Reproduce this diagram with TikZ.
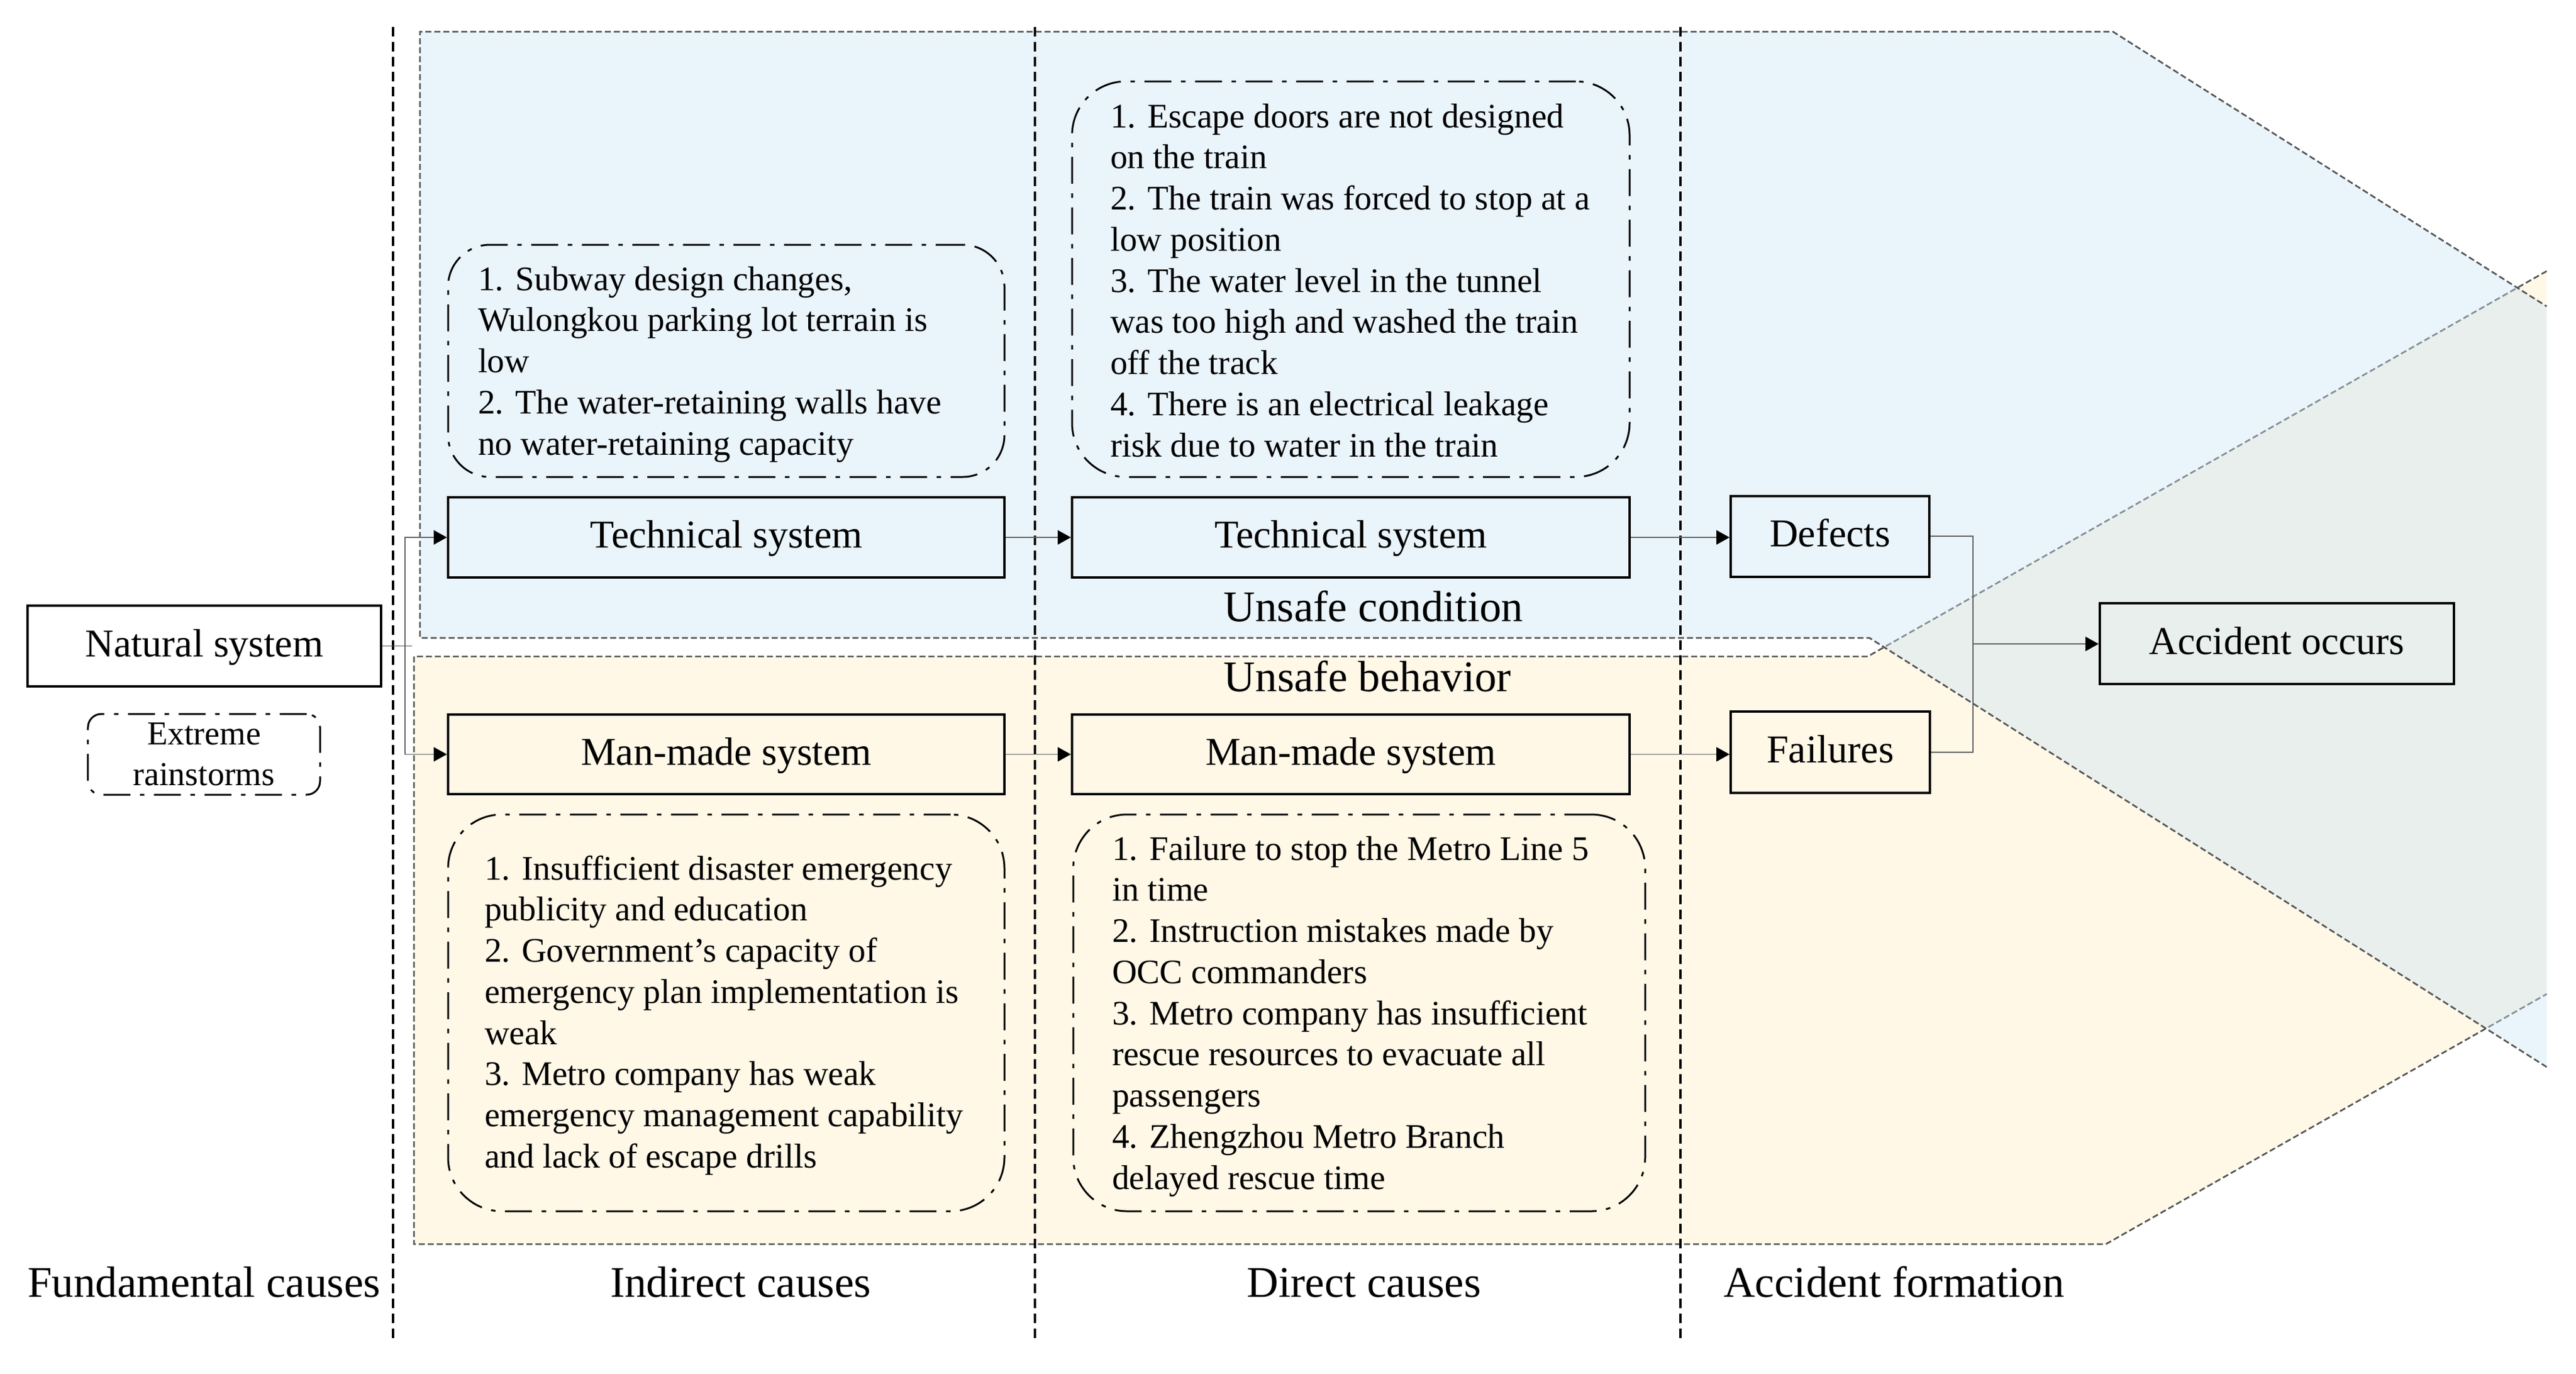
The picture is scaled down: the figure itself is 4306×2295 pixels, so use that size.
\documentclass[tikz,border=0pt]{standalone}
\usepackage{fontspec}
\setmainfont{Liberation Serif}
\usetikzlibrary{arrows.meta}
\definecolor{bluefill}{RGB}{202,227,245}
\definecolor{yelfill}{RGB}{255,248,231}
\definecolor{regline}{RGB}{85,85,85}
\definecolor{connline}{RGB}{95,95,95}
\begin{document}
\begin{tikzpicture}[x=0.2pt,y=-0.2pt]
\tikzset{
 sysbox/.style={draw, line width=0.8pt, inner sep=0pt, text height=0.92em, text depth=0.22em, font=\fontsize{13.2}{15}\selectfont},
 notebox/.style={draw, line width=0.6pt, dash pattern=on 9pt off 3.2pt on 1.5pt off 3.2pt, rounded corners=18pt, inner sep=0pt},
 notetext/.style={anchor=base west, inner sep=0pt, font=\fontsize{11.5}{13.75}\selectfont},
 divider/.style={line width=0.65pt, dash pattern=on 3.2pt off 1.8pt},
 regborder/.style={draw=regline, line width=0.55pt, dash pattern=on 2pt off 1pt},
 conn/.style={draw=connline, line width=0.35pt},
 arr/.style={-{Triangle[length=4.4pt,width=4.8pt,color=black]}},
 seclabel/.style={anchor=base, inner sep=0pt, font=\fontsize{14.6}{17}\selectfont},
}
\useasboundingbox (0,0) rectangle (4306,2295);
% unsafe behavior region (yellow)
\fill[yelfill] (692,1097) -- (3122,1097) -- (4257,453) -- (4257,1661) -- (3520,2079) -- (692,2079) -- cycle;
\draw[regborder] (4257,453) -- (3122,1097) -- (692,1097) -- (692,2079) -- (3520,2079) -- (4257,1661);
% unsafe condition region (blue)
\fill[bluefill, fill opacity=0.4] (702,53) -- (3532,53) -- (4257,512) -- (4257,1783) -- (3125,1066) -- (702,1066) -- cycle;
\draw[regborder] (4257,1783) -- (3125,1066) -- (702,1066) -- (702,53) -- (3532,53) -- (4257,512);
% dividers
\draw[divider] (657,45) -- (657,2243);
\draw[divider] (1730,45) -- (1730,2243);
\draw[divider] (2809,45) -- (2809,2243);
% system boxes
\node[sysbox, minimum width=118.2pt, minimum height=27pt] (natural) at (341.5,1079.5) {Natural system};
\node[sysbox, minimum width=186pt, minimum height=26.8pt] (tech1) at (1214,898) {Technical system};
\node[sysbox, minimum width=186.4pt, minimum height=26.8pt] (tech2) at (2258,898) {Technical system};
\node[sysbox, minimum width=66.4pt, minimum height=27pt] (defects) at (3059,896) {Defects};
\node[sysbox, minimum width=186pt, minimum height=26.6pt] (man1) at (1214,1260.5) {Man-made system};
\node[sysbox, minimum width=186.4pt, minimum height=26.6pt] (man2) at (2258,1260.5) {Man-made system};
\node[sysbox, minimum width=66.6pt, minimum height=27.2pt] (failures) at (3059.5,1257) {Failures};
\node[sysbox, minimum width=118.4pt, minimum height=27pt] (accident) at (3806,1075.5) {Accident occurs};
\node[notebox, rounded corners=4.5pt, minimum width=77.6pt, minimum height=27pt, align=center, font=\fontsize{11.2}{13.6}\selectfont] (rain) at (341,1260.5) {Extreme\\rainstorms};
% note boxes
\node[notebox, rounded corners=14pt, minimum width=186pt, minimum height=77.6pt] (boxA) at (1214,603) {};
\node[notebox, minimum width=186.4pt, minimum height=132.2pt] (boxB) at (2258,466.5) {};
\node[notebox, minimum width=186pt, minimum height=132.6pt] (boxC) at (1214,1692.5) {};
\node[notebox, minimum width=191.2pt, minimum height=132.6pt] (boxD) at (2272,1692.5) {};
\node[notetext] (tA) at (798,485) {\begin{tabular}[t]{@{}l@{}}1. Subway design changes,\\Wulongkou parking lot terrain is\\low\\2. The water-retaining walls have\\no water-retaining capacity\end{tabular}};
\node[notetext] (tB) at (1855,213) {\begin{tabular}[t]{@{}l@{}}1. Escape doors are not designed\\on the train\\2. The train was forced to stop at a\\low position\\3. The water level in the tunnel\\was too high and washed the train\\off the track\\4. There is an electrical leakage\\risk due to water in the train\end{tabular}};
\node[notetext] (tC) at (809,1470) {\begin{tabular}[t]{@{}l@{}}1. Insufficient disaster emergency\\publicity and education\\2. Government’s capacity of\\emergency plan implementation is\\weak\\3. Metro company has weak\\emergency management capability\\and lack of escape drills\end{tabular}};
\node[notetext] (tD) at (1858,1437) {\begin{tabular}[t]{@{}l@{}}1. Failure to stop the Metro Line 5\\in time\\2. Instruction mistakes made by\\OCC commanders\\3. Metro company has insufficient\\rescue resources to evacuate all\\passengers\\4. Zhengzhou Metro Branch\\delayed rescue time\end{tabular}};
% section labels
\node[seclabel] (ucond) at (2296,1038) {Unsafe condition};
\node[seclabel] (ubeh) at (2286,1155) {Unsafe behavior};
\node[seclabel] (fund) at (341,2167) {Fundamental causes};
\node[seclabel] (indir) at (1238,2167) {Indirect causes};
\node[seclabel] (direct) at (2280,2167) {Direct causes};
\node[seclabel] (form) at (3166,2167) {Accident formation};
% connectors
\coordinate (jn) at (677,1078);
\coordinate (jr) at (3298,1076);
\draw[conn] (natural.east) -- ++(50,0);
\draw[conn, arr] (jn) |- (tech1.west);
\draw[conn, arr] (jn) |- (man1.west);
\draw[conn, arr] (tech1.east) -- (tech2.west);
\draw[conn, arr] (tech2.east) -- (tech2.east -| defects.west);
\draw[conn, arr] (man1.east) -- (man2.west);
\draw[conn, arr] (man2.east) -- (man2.east -| failures.west);
\draw[conn] (defects.east) -| (jr);
\draw[conn] (failures.east) -| (jr);
\draw[conn, arr] (jr) -- (jr -| accident.west);
\end{tikzpicture}
\end{document}
